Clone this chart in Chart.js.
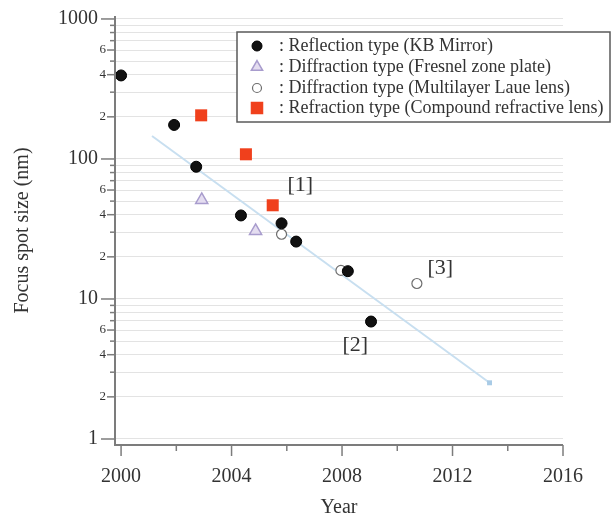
<!DOCTYPE html>
<html>
<head>
<meta charset="utf-8">
<script src="https://cdn.jsdelivr.net/npm/chart.js@4/dist/chart.umd.min.js"></script>
<style>
  html, body { margin: 0; padding: 0; background: #ffffff; }
  #c { display: block; }
</style>
</head>
<body>
<canvas id="c" width="613" height="515"></canvas>
<script>
// Focus spot size achieved by hard X-ray focusing optics, by year
const reflectionYears = [2000.0, 2001.92, 2002.72, 2004.34, 2005.81, 2006.34, 2008.21, 2009.05];
const reflectionSizes = [395, 175, 88, 39.5, 34.7, 25.7, 15.8, 6.9];

const fzpYears = [2002.92, 2004.87];
const fzpSizes = [51, 30.6];

const mllYears = [2005.81, 2007.96, 2010.71];
const mllSizes = [29, 16, 12.9];

const crlYears = [2002.9, 2004.52, 2005.49];
const crlSizes = [205, 108, 46.7];

const trendYears = [2001.12, 2013.34];
const trendSizes = [146, 2.52];

const seriesLabels = [
  'Reflection type (KB Mirror)',
  'Diffraction type (Fresnel zone plate)',
  'Diffraction type (Multilayer Laue lens)',
  'Refraction type (Compound refractive lens)'
];

const refLabels = ['[1]', '[2]', '[3]'];
const refYears = [2006.49, 2008.48, 2011.56];
const refSizes = [65, 4.7, 16.6];

const xTickYears = [2000, 2002, 2004, 2006, 2008, 2010, 2012, 2014, 2016];
const xLabelYears = [2000, 2004, 2008, 2012, 2016];
const yGridValues = [1, 2, 3, 4, 5, 6, 7, 8, 9,
                     10, 20, 30, 40, 50, 60, 70, 80, 90,
                     100, 200, 300, 400, 500, 600, 700, 800, 900, 1000];
const yMajorLabels = [1, 10, 100, 1000];
const yMinorLabels = [2, 4, 6, 20, 40, 60, 200, 400, 600];

const SERIF = '"Liberation Serif", "Times New Roman", serif';
const TEXT = '#333333';
const AXIS = '#7c7c7c';

function toPoints(xs, ys) { return xs.map((x, i) => ({ x: x, y: ys[i] })); }

// Axis lines, tick marks, y labels and reference markers drawn against the scales
const axisPlugin = {
  id: 'axisDecor',
  afterDraw(chart) {
    const ctx = chart.ctx;
    const xs = chart.scales.x, ys = chart.scales.y;
    const area = chart.chartArea;
    ctx.save();
    ctx.strokeStyle = AXIS;
    ctx.lineWidth = 2;
    ctx.beginPath();
    ctx.moveTo(area.left, area.top);
    ctx.lineTo(area.left, area.bottom);
    ctx.lineTo(area.right, area.bottom);
    ctx.stroke();

    ctx.lineWidth = 1.5;
    yGridValues.forEach(v => {
      const py = ys.getPixelForValue(v);
      let len = 5;
      if (yMajorLabels.includes(v)) len = 14;
      else if (yMinorLabels.includes(v)) len = 8;
      ctx.beginPath();
      ctx.moveTo(area.left - len, py);
      ctx.lineTo(area.left, py);
      ctx.stroke();
    });
    xTickYears.forEach(v => {
      const px = xs.getPixelForValue(v);
      const len = xLabelYears.includes(v) ? 11 : 6;
      ctx.beginPath();
      ctx.moveTo(px, area.bottom);
      ctx.lineTo(px, area.bottom + len);
      ctx.stroke();
    });

    ctx.fillStyle = TEXT;
    ctx.textAlign = 'right';
    ctx.textBaseline = 'middle';
    yMajorLabels.forEach(v => {
      ctx.font = '20px ' + SERIF;
      ctx.fillText(String(v), area.left - 17, ys.getPixelForValue(v));
    });
    yMinorLabels.forEach(v => {
      ctx.font = '13px ' + SERIF;
      ctx.fillText(String(v).charAt(0), area.left - 9, ys.getPixelForValue(v));
    });

    ctx.textAlign = 'center';
    ctx.font = '22px ' + SERIF;
    refLabels.forEach((t, i) => {
      ctx.fillText(t, xs.getPixelForValue(refYears[i]), ys.getPixelForValue(refSizes[i]));
    });
    ctx.restore();
  }
};

function drawMarker(ctx, style, r, x, y) {
  ctx.beginPath();
  if (style === 'circle') {
    ctx.arc(x, y, r, 0, Math.PI * 2);
  } else if (style === 'rect') {
    const s = r * Math.SQRT1_2;
    ctx.rect(x - s, y - s, 2 * s, 2 * s);
  } else if (style === 'triangle') {
    let a = 0;
    ctx.moveTo(x + Math.sin(a) * r, y - Math.cos(a) * r);
    a += Math.PI * 2 / 3;
    ctx.lineTo(x + Math.sin(a) * r, y - Math.cos(a) * r);
    a += Math.PI * 2 / 3;
    ctx.lineTo(x + Math.sin(a) * r, y - Math.cos(a) * r);
    ctx.closePath();
  }
  ctx.fill();
  if (ctx.lineWidth > 0) ctx.stroke();
}

// Boxed legend in the upper right of the plot
const legendPlugin = {
  id: 'boxLegend',
  afterDraw(chart) {
    const ctx = chart.ctx;
    const box = { x: 237, y: 32, w: 373, h: 90 };
    ctx.save();
    ctx.fillStyle = '#ffffff';
    ctx.fillRect(box.x, box.y, box.w, box.h);
    ctx.strokeStyle = '#5a5a5a';
    ctx.lineWidth = 1.5;
    ctx.strokeRect(box.x, box.y, box.w, box.h);
    ctx.textAlign = 'left';
    ctx.textBaseline = 'middle';
    const rowY = [46, 67, 88, 108];
    seriesLabels.forEach((label, i) => {
      const ds = chart.data.datasets[i];
      ctx.fillStyle = ds.backgroundColor;
      ctx.strokeStyle = ds.borderColor;
      ctx.lineWidth = ds.borderWidth;
      drawMarker(ctx, ds.pointStyle, ds.legendRadius, 257, rowY[i]);
      ctx.font = '18px ' + SERIF;
      ctx.fillStyle = TEXT;
      ctx.fillText(': ' + label, 279, rowY[i]);
    });
    ctx.restore();
  }
};

const chart = new Chart(document.getElementById('c'), {
  type: 'scatter',
  data: {
    datasets: [
      {
        label: seriesLabels[0],
        data: toPoints(reflectionYears, reflectionSizes),
        pointStyle: 'circle', pointRadius: 5.5, legendRadius: 5,
        backgroundColor: '#111111', borderColor: '#000000', borderWidth: 1,
        order: 0
      },
      {
        label: seriesLabels[1],
        data: toPoints(fzpYears, fzpSizes),
        pointStyle: 'triangle', pointRadius: 7, legendRadius: 6.5,
        backgroundColor: '#e4ddf0', borderColor: '#a89ccd', borderWidth: 1.5,
        order: 2
      },
      {
        label: seriesLabels[2],
        data: toPoints(mllYears, mllSizes),
        pointStyle: 'circle', pointRadius: 5, legendRadius: 4.5,
        backgroundColor: '#ffffff', borderColor: '#6e6e6e', borderWidth: 1.2,
        order: 1
      },
      {
        label: seriesLabels[3],
        data: toPoints(crlYears, crlSizes),
        pointStyle: 'rect', pointRadius: 8.5, legendRadius: 8,
        backgroundColor: '#f0401c', borderColor: '#f0401c', borderWidth: 0,
        order: 3
      },
      {
        label: 'trend',
        type: 'line',
        data: toPoints(trendYears, trendSizes),
        showLine: true,
        borderColor: '#c8dff0', borderWidth: 2,
        pointStyle: 'rect', pointRadius: [0, 3.5],
        pointBackgroundColor: '#a9cbe6', pointBorderWidth: 0,
        order: 10
      }
    ]
  },
  options: {
    responsive: false,
    animation: false,
    devicePixelRatio: 1,
    layout: { padding: { top: 16, right: 50, left: 0, bottom: 0 } },
    plugins: {
      legend: { display: false },
      tooltip: { enabled: false }
    },
    scales: {
      x: {
        type: 'linear',
        min: 1999.78,
        max: 2016,
        afterBuildTicks: s => { s.ticks = xLabelYears.map(v => ({ value: v })); },
        afterFit: s => { s.height = 70; },
        grid: { display: false, drawTicks: false },
        border: { display: false },
        ticks: {
          padding: 20,
          color: TEXT,
          font: { family: SERIF, size: 20 },
          maxRotation: 0,
          autoSkip: false,
          callback: v => String(v)
        },
        title: {
          display: true,
          text: 'Year',
          color: TEXT,
          font: { family: SERIF, size: 20, lineHeight: 1 },
          padding: { top: 0, bottom: -3 }
        }
      },
      y: {
        type: 'logarithmic',
        min: 0.906,
        max: 1050,
        afterBuildTicks: s => { s.ticks = yGridValues.map(v => ({ value: v })); },
        afterFit: s => { s.width = 115; },
        grid: { color: '#e3e3e3', lineWidth: 1, drawTicks: false },
        border: { display: false },
        ticks: { display: false },
        title: {
          display: true,
          text: 'Focus spot size (nm)',
          color: TEXT,
          font: { family: SERIF, size: 20, lineHeight: 1.2 },
          padding: { top: 11, bottom: 0 }
        }
      }
    }
  },
  plugins: [axisPlugin, legendPlugin]
});
</script>
</body>
</html>
